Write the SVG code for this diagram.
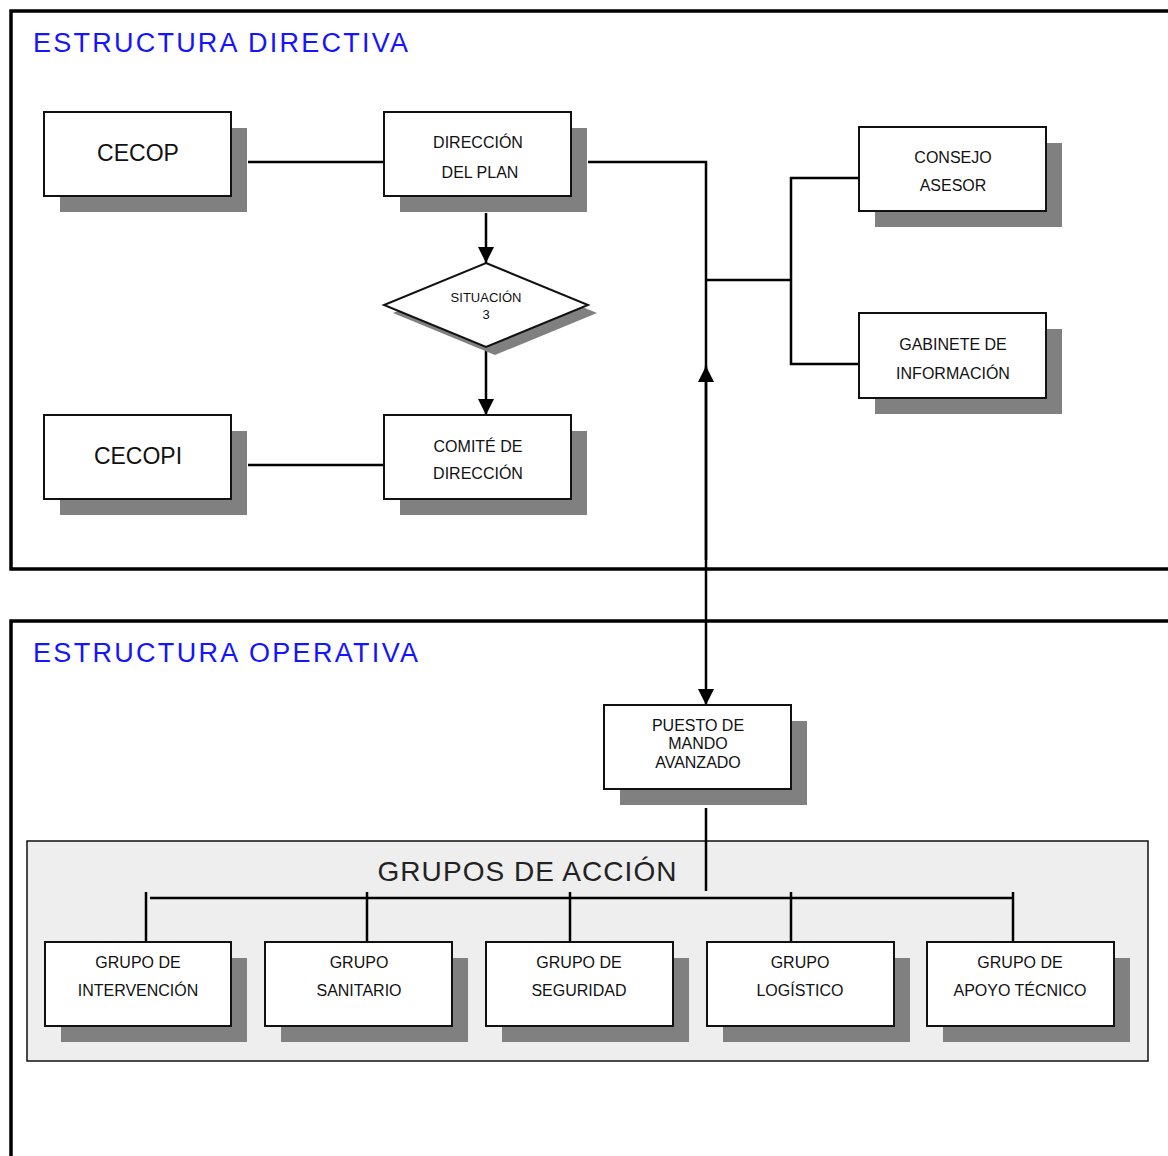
<svg xmlns="http://www.w3.org/2000/svg" width="1168" height="1156" viewBox="0 0 1168 1156">
<style>
  text { font-family: "Liberation Sans", Arial, sans-serif; fill: #111; text-anchor: middle; }
  .title { font-size: 27px; fill: #1414ff; text-anchor: start; }
  .box { fill: #fff; stroke: #111; stroke-width: 2; }
  .shadow { fill: #808080; }
  .t16 { font-size: 16px; }
  .t23 { font-size: 23px; }
  .t13 { font-size: 13px; }
  .frame { fill: none; stroke: #000; stroke-width: 3.5; }
  .conn { fill: none; stroke: #000; stroke-width: 2.5; }
</style>
<defs>
  <marker id="arr" viewBox="0 0 10 10" refX="10" refY="5" markerWidth="6.5" markerHeight="6.5" markerUnits="strokeWidth" orient="auto">
    <path d="M0,0 L10,5 L0,10 z" fill="#000"/>
  </marker>
</defs>
<rect width="1168" height="1156" fill="#fff"/>

<g id="frames">
  <path class="frame" d="M1170,11 H11 V569 H1170"/>
  <path class="frame" d="M1170,621 H11 V1160"/>
  <text class="title" x="33" y="52" textLength="375" lengthAdjust="spacing">ESTRUCTURA DIRECTIVA</text>
  <text class="title" x="33" y="662" textLength="385" lengthAdjust="spacing">ESTRUCTURA OPERATIVA</text>
</g>

<g id="grupos-area">
  <rect x="27" y="841" width="1121" height="220" fill="#eeeeee" stroke="#111" stroke-width="1.5"/>
  <text x="527" y="881" style="font-size:28px;fill:#222" textLength="299" lengthAdjust="spacing">GRUPOS DE ACCIÓN</text>
</g>

<g id="connectors">
  <line class="conn" x1="248" y1="162" x2="384" y2="162"/>
  <line class="conn" x1="248" y1="465" x2="384" y2="465"/>
  <line class="conn" x1="486" y1="213" x2="486" y2="263" marker-end="url(#arr)"/>
  <line class="conn" x1="486" y1="348" x2="486" y2="415" marker-end="url(#arr)"/>
  <polyline class="conn" points="588,162 706,162 706,368"/>
  <line class="conn" x1="706" y1="560" x2="706" y2="366" marker-end="url(#arr)"/>
  <line class="conn" x1="706" y1="368" x2="706" y2="705" marker-end="url(#arr)"/>
  <line class="conn" x1="706" y1="280" x2="791" y2="280"/>
  <polyline class="conn" points="859,178 791,178 791,364 859,364"/>
  <line class="conn" x1="706" y1="808" x2="706" y2="891"/>
  <line class="conn" x1="150" y1="898" x2="1013" y2="898"/>
  <line class="conn" x1="146" y1="892" x2="146" y2="942"/>
  <line class="conn" x1="367" y1="892" x2="367" y2="942"/>
  <line class="conn" x1="570" y1="892" x2="570" y2="942"/>
  <line class="conn" x1="791" y1="892" x2="791" y2="942"/>
  <line class="conn" x1="1013" y1="892" x2="1013" y2="942"/>
</g>

<g id="cecop">
  <rect class="shadow" x="60" y="128" width="187" height="84"/>
  <rect class="box" x="44" y="112" width="187" height="84"/>
  <text class="t23" x="138" y="161">CECOP</text>
</g>
<g id="direccion-plan">
  <rect class="shadow" x="400" y="128" width="187" height="84"/>
  <rect class="box" x="384" y="112" width="187" height="84"/>
  <text class="t16" x="478" y="148">DIRECCIÓN</text>
  <text class="t16" x="480" y="178">DEL PLAN</text>
</g>
<g id="situacion">
  <polygon class="shadow" points="495,271 597,313 495,355 393,313"/>
  <polygon class="box" points="486,263 588,305 486,347 384,305"/>
  <text class="t13" x="486" y="302">SITUACIÓN</text>
  <text class="t13" x="486" y="319">3</text>
</g>
<g id="cecopi">
  <rect class="shadow" x="60" y="431" width="187" height="84"/>
  <rect class="box" x="44" y="415" width="187" height="84"/>
  <text class="t23" x="138" y="464">CECOPI</text>
</g>
<g id="comite">
  <rect class="shadow" x="400" y="431" width="187" height="84"/>
  <rect class="box" x="384" y="415" width="187" height="84"/>
  <text class="t16" x="478" y="452">COMITÉ DE</text>
  <text class="t16" x="478" y="479">DIRECCIÓN</text>
</g>
<g id="consejo">
  <rect class="shadow" x="875" y="143" width="187" height="84"/>
  <rect class="box" x="859" y="127" width="187" height="84"/>
  <text class="t16" x="953" y="163">CONSEJO</text>
  <text class="t16" x="953" y="191">ASESOR</text>
</g>
<g id="gabinete">
  <rect class="shadow" x="875" y="329" width="187" height="85"/>
  <rect class="box" x="859" y="313" width="187" height="85"/>
  <text class="t16" x="953" y="350">GABINETE DE</text>
  <text class="t16" x="953" y="379">INFORMACIÓN</text>
</g>
<g id="pma">
  <rect class="shadow" x="620" y="721" width="187" height="84"/>
  <rect class="box" x="604" y="705" width="187" height="84"/>
  <text class="t16" x="698" y="731">PUESTO DE</text>
  <text class="t16" x="698" y="749">MANDO</text>
  <text class="t16" x="698" y="768">AVANZADO</text>
</g>
<g id="g-intervencion">
  <rect class="shadow" x="61" y="958" width="186" height="84"/>
  <rect class="box" x="45" y="942" width="186" height="84"/>
  <text class="t16" x="138" y="968">GRUPO DE</text>
  <text class="t16" x="138" y="996">INTERVENCIÓN</text>
</g>
<g id="g-sanitario">
  <rect class="shadow" x="281" y="958" width="187" height="84"/>
  <rect class="box" x="265" y="942" width="187" height="84"/>
  <text class="t16" x="359" y="968">GRUPO</text>
  <text class="t16" x="359" y="996">SANITARIO</text>
</g>
<g id="g-seguridad">
  <rect class="shadow" x="502" y="958" width="187" height="84"/>
  <rect class="box" x="486" y="942" width="187" height="84"/>
  <text class="t16" x="579" y="968">GRUPO DE</text>
  <text class="t16" x="579" y="996">SEGURIDAD</text>
</g>
<g id="g-logistico">
  <rect class="shadow" x="723" y="958" width="187" height="84"/>
  <rect class="box" x="707" y="942" width="187" height="84"/>
  <text class="t16" x="800" y="968">GRUPO</text>
  <text class="t16" x="800" y="996">LOGÍSTICO</text>
</g>
<g id="g-apoyo">
  <rect class="shadow" x="943" y="958" width="187" height="84"/>
  <rect class="box" x="927" y="942" width="187" height="84"/>
  <text class="t16" x="1020" y="968">GRUPO DE</text>
  <text class="t16" x="1020" y="996">APOYO TÉCNICO</text>
</g>
</svg>
